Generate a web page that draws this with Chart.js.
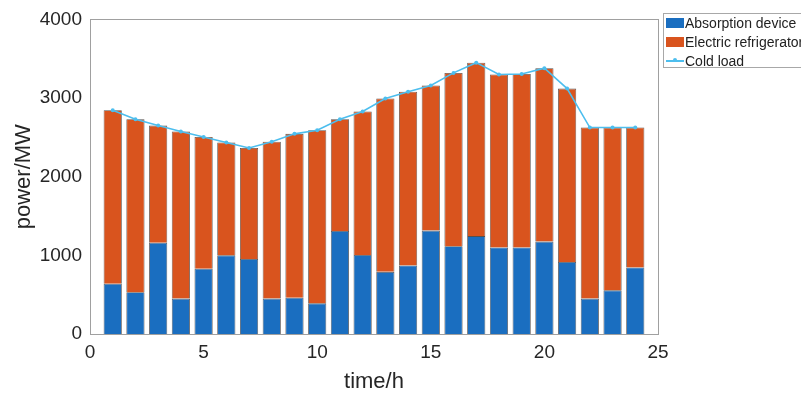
<!DOCTYPE html>
<html>
<head>
<meta charset="utf-8">
<script src="https://cdn.jsdelivr.net/npm/chart.js@4/dist/chart.umd.min.js"></script>
<style>
  body { margin: 0; background: #fff; }
  #wrap { position: relative; width: 801px; height: 395px; overflow: hidden; }
  #legenda {
    position: absolute; left: 663px; top: 13px; width: 150px; height: 55px;
    border: 1px solid #a8a8a8; background: #fff; box-sizing: border-box;
    font-family: "Liberation Sans", Arial, sans-serif; font-size: 14px; color: #222;
  }
  .item { position: absolute; left: 2px; height: 18px; line-height: 18px; white-space: nowrap; }
  .item .sw { position: absolute; left: 0; top: 4px; width: 18px; height: 10px; }
  .item span.txt { position: absolute; left: 19px; top: 0; }
  .item .ln { position: absolute; left: 0; top: 8px; width: 18px; height: 1.5px; background: #4dbeee; }
  .item .dot { position: absolute; left: 7px; top: 6px; width: 4px; height: 4px; border-radius: 50%; background: #4dbeee; }
</style>
</head>
<body>
<div id="wrap">
  <canvas id="grafico" width="801" height="395"></canvas>
  <div id="legenda"></div>
</div>
<script>
// Dados
const horas = [1, 2, 3, 4, 5, 6, 7, 8, 9, 10, 11, 12, 13, 14, 15, 16, 17, 18, 19, 20, 21, 22, 23, 24];
const absorcao = [640, 530, 1160, 450, 830, 1000, 955, 450, 460, 390, 1310, 1005, 790, 870, 1315, 1115, 1245, 1100, 1100, 1175, 915, 450, 555, 845];
const refrigerador = [2205, 2200, 1490, 2125, 1675, 1435, 1410, 1995, 2085, 2200, 1420, 1825, 2205, 2210, 1845, 2205, 2205, 2200, 2205, 2205, 2205, 2175, 2070, 1780];
const cargaFria = [2845, 2730, 2650, 2575, 2505, 2435, 2365, 2445, 2545, 2590, 2730, 2830, 2995, 3080, 3160, 3320, 3450, 3300, 3305, 3380, 3120, 2625, 2625, 2625];
const ticksX = [0, 5, 10, 15, 20, 25];
const ticksY = [0, 1000, 2000, 3000, 4000];

const nomes = ["Absorption device", "Electric refrigerator", "Cold load"];
const cores = ["#1a6ec0", "#d9541e", "#4dbeee"];

const fonte = '"Liberation Sans", Arial, sans-serif';

// Função para montar pares {x, y}
function pares(valores) {
  return horas.map((h, i) => ({ x: h, y: valores[i] }));
}

// Plugin para desenhar a caixa dos eixos (estilo MATLAB)
const caixa = {
  id: "caixa",
  afterDatasetsDraw(chart) {
    const { ctx, chartArea: a } = chart;
    ctx.save();
    ctx.strokeStyle = "#a0a0a0";
    ctx.lineWidth = 1;
    ctx.strokeRect(Math.round(a.left) + 0.5, Math.round(a.top) + 0.5, Math.round(a.right - a.left), Math.round(a.bottom - a.top));
    ctx.restore();
  }
};

function renderChart() {
  const ctx = document.getElementById("grafico").getContext("2d");
  new Chart(ctx, {
    type: "bar",
    data: {
      datasets: [
        {
          type: "line",
          label: nomes[2],
          data: pares(cargaFria),
          borderColor: cores[2],
          backgroundColor: cores[2],
          borderWidth: 1.6,
          pointRadius: 2,
          pointBorderWidth: 0,
          tension: 0,
          order: 0
        },
        {
          label: nomes[0],
          data: pares(absorcao),
          backgroundColor: cores[0],
          borderColor: "rgba(45,35,30,0.8)",
          borderWidth: 0.8,
          barPercentage: 0.8,
          categoryPercentage: 1,
          order: 1
        },
        {
          label: nomes[1],
          data: pares(refrigerador),
          backgroundColor: cores[1],
          borderColor: "rgba(45,35,30,0.8)",
          borderWidth: 0.8,
          barPercentage: 0.8,
          categoryPercentage: 1,
          order: 1
        }
      ]
    },
    options: {
      responsive: false,
      animation: false,
      devicePixelRatio: 1,
      layout: { padding: { top: 13, right: 143, left: 0, bottom: 0 } },
      plugins: { legend: { display: false }, tooltip: { enabled: false } },
      scales: {
        x: {
          type: "linear",
          stacked: true,
          min: 0,
          max: 25,
          offset: false,
          afterBuildTicks: s => { s.ticks = ticksX.map(v => ({ value: v })); },
          afterFit: s => { s.height = 61; },
          grid: { display: false, drawTicks: false },
          border: { display: false },
          ticks: { color: "#262626", padding: 7, maxRotation: 0, callback: v => String(v), font: { family: fonte, size: 19 } },
          title: { display: true, text: "time/h", color: "#262626", padding: { top: 0, bottom: 0 }, font: { family: fonte, size: 22, lineHeight: 1.2 } }
        },
        y: {
          stacked: true,
          min: 0,
          max: 4000,
          afterBuildTicks: s => { s.ticks = ticksY.map(v => ({ value: v })); },
          afterFit: s => { s.width = 90; },
          grid: { display: false, drawTicks: false },
          border: { display: false },
          ticks: { color: "#262626", padding: 8, callback: v => String(v), font: { family: fonte, size: 19 } },
          title: { display: true, text: "power/MW", color: "#262626", padding: { top: 11, bottom: 0 }, font: { family: fonte, size: 22, lineHeight: 1.2 } }
        }
      }
    },
    plugins: [caixa]
  });
}

// Legenda em HTML, posicionada como na figura original
function renderLegenda() {
  const leg = document.getElementById("legenda");
  const tops = [0, 19, 38];
  nomes.forEach((nome, i) => {
    const div = document.createElement("div");
    div.className = "item";
    div.style.top = tops[i] + "px";
    if (i < 2) {
      div.innerHTML = `<div class="sw" style="background:${cores[i]}"></div><span class="txt">${nome}</span>`;
    } else {
      div.innerHTML = `<div class="ln"></div><div class="dot"></div><span class="txt">${nome}</span>`;
    }
    leg.appendChild(div);
  });
}

document.addEventListener("DOMContentLoaded", () => {
  renderChart();
  renderLegenda();
});
</script>
</body>
</html>
